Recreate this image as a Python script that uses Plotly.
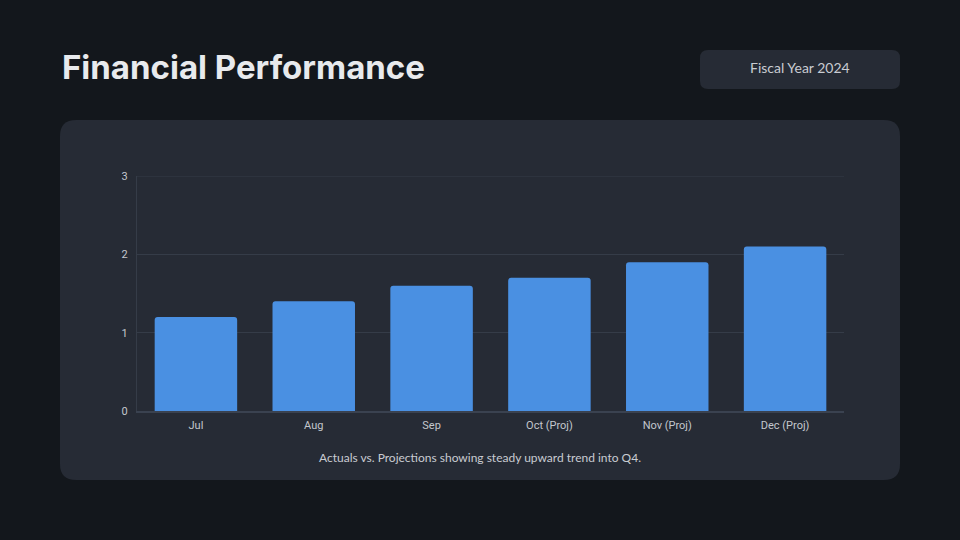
import plotly.graph_objects as go

months = ["Jul", "Aug", "Sep", "Oct (Proj)", "Nov (Proj)", "Dec (Proj)"]
values = [1.2, 1.4, 1.6, 1.7, 1.9, 2.1]
y_ticks = [0, 1, 2, 3]

W, H = 960, 540
L, R, T, B = 137, 116, 176, 129
PW, PH = W - L - R, H - T - B


def px(x):
    return (x - L) / PW


def py(y):
    return 1 - (y - T) / PH


def rrect(x0, y0, x1, y1, r):
    pts = [
        f"M {px(x0 + r)} {py(y0)}",
        f"L {px(x1 - r)} {py(y0)}",
        f"Q {px(x1)} {py(y0)} {px(x1)} {py(y0 + r)}",
        f"L {px(x1)} {py(y1 - r)}",
        f"Q {px(x1)} {py(y1)} {px(x1 - r)} {py(y1)}",
        f"L {px(x0 + r)} {py(y1)}",
        f"Q {px(x0)} {py(y1)} {px(x0)} {py(y1 - r)}",
        f"L {px(x0)} {py(y0 + r)}",
        f"Q {px(x0)} {py(y0)} {px(x0 + r)} {py(y0)}",
        "Z",
    ]
    return " ".join(pts)


fig = go.Figure()
fig.add_trace(go.Bar(
    x=months, y=values,
    marker=dict(color="#4a90e2", line=dict(width=0)),
    hoverinfo="skip",
))

grid_color = "#353c48"

fig.update_layout(
    width=W, height=H,
    margin=dict(l=L, r=R, t=T, b=B),
    paper_bgcolor="#13171c",
    plot_bgcolor="rgba(0,0,0,0)",
    bargap=0.3,
    barcornerradius=3,
    showlegend=False,
    font=dict(family="Roboto", color="#c3c7cd", size=11),
    xaxis=dict(
        showgrid=False, showline=True, linecolor="#3a4250", linewidth=1.5,
        ticks="", ticklabelstandoff=3,
        tickfont=dict(family="Roboto", size=11, color="#c3c7cd"),
        zeroline=False,
    ),
    yaxis=dict(
        range=[0, 3], tickvals=y_ticks, showgrid=True, gridcolor=grid_color,
        gridwidth=1, showline=True, linecolor=grid_color, linewidth=1,
        zeroline=False, ticks="", ticklabelstandoff=6,
        tickfont=dict(family="Roboto", size=11, color="#c3c7cd"),
    ),
    shapes=[
        dict(type="path", xref="paper", yref="paper", layer="below",
             path=rrect(60, 120, 900, 480, 16), fillcolor="#262b35",
             line=dict(width=0)),
        dict(type="path", xref="paper", yref="paper", layer="below",
             path=rrect(700, 50, 900, 89, 8), fillcolor="#262b35",
             line=dict(width=0)),
        dict(type="line", xref="paper", yref="y", layer="below",
             x0=0, x1=1, y0=y_ticks[-1], y1=y_ticks[-1],
             line=dict(color=grid_color, width=1)),
    ],
    annotations=[
        dict(text="<b>Financial Performance</b>", xref="paper", yref="paper",
             x=px(60), y=py(67), xanchor="left", yanchor="middle",
             showarrow=False,
             font=dict(family="Inter", size=33, color="#e8eaed")),
        dict(text="Fiscal Year 2024", xref="paper", yref="paper",
             x=px(800), y=py(67), xanchor="center", yanchor="middle",
             showarrow=False,
             font=dict(family="Lato", size=14, color="#c9ccd2")),
        dict(text="Actuals vs. Projections showing steady upward trend into Q4.",
             xref="paper", yref="paper",
             x=px(480), y=py(457), xanchor="center", yanchor="middle",
             showarrow=False,
             font=dict(family="Lato", size=12, color="#c9ccd2")),
    ],
)

fig.write_html(
    "out.html",
    config={"displayModeBar": False},
    post_script="document.body.style.margin='0';document.body.style.background='#13171c';",
)
